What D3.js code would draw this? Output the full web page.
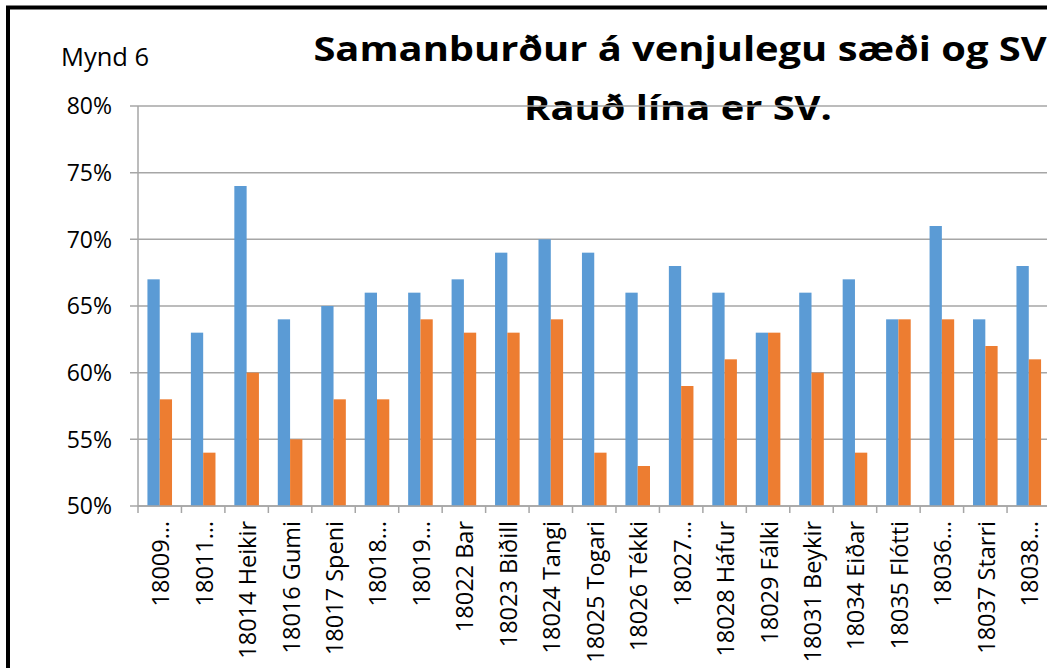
<!DOCTYPE html>
<html>
<head>
<meta charset="utf-8">
<script src="https://cdn.jsdelivr.net/npm/d3@7"></script>
<style>
  body { margin: 0; background: #fff; }
  svg { display: block; font-family: "Open Sans", sans-serif; }
</style>
</head>
<body>
<div id="chart"></div>
<script>
// categories as they show on the axis (Excel cut the long ones)
const categories = ["18009…", "18011…", "18014 Heikir", "18016 Gumi", "18017 Speni", "18018…", "18019…",
  "18022 Bar", "18023 Biðill", "18024 Tangi", "18025 Togari", "18026 Tékki", "18027…", "18028 Háfur",
  "18029 Fálki", "18031 Beykir", "18034 Eiðar", "18035 Flótti", "18036…", "18037 Starri", "18038…"];

// venjulegt sæði (blue) and SV (orange), in %
const venjulegt = [67, 63, 74, 64, 65, 66, 66, 67, 69, 70, 69, 66, 68, 66, 63, 66, 67, 64, 71, 64, 68];
const sv = [58, 54, 60, 55, 58, 58, 64, 63, 63, 64, 54, 53, 59, 61, 63, 60, 54, 64, 64, 62, 61];

const yTicks = [50, 55, 60, 65, 70, 75, 80];
const seriesNames = ["venjulegt", "sv"];

const width = 1047, height = 668;
const colors = { venjulegt: "#5b9bd5", sv: "#ed7d31" };

const svg = d3.select("#chart")
  .append("svg")
  .attr("width", width)
  .attr("height", height);

// outer frame, runs off the right and bottom edge like the screenshot
svg.append("rect")
  .attr("x", 8).attr("y", 7.5)
  .attr("width", 1100).attr("height", 700)
  .attr("fill", "none")
  .attr("stroke", "#000")
  .attr("stroke-width", 4);

svg.append("text")
  .attr("x", 61).attr("y", 66)
  .attr("font-size", 25.5)
  .attr("fill", "#000")
  .text("Mynd 6");

// titles (centered on the full chart, which is cut at the right);
// the original font is wider than Open Sans, so stretch it a bit
const title = svg.append("g")
  .attr("font-weight", "bold")
  .attr("font-size", 33.5)
  .attr("text-anchor", "middle")
  .attr("fill", "#000");
title.append("text")
  .attr("transform", "translate(680,61) scale(1.19,1)")
  .text("Samanburður á venjulegu sæði og SV");
title.append("text")
  .attr("transform", "translate(678,120) scale(1.19,1)")
  .text("Rauð lína er SV.");

const x = d3.scaleBand()
  .domain(categories)
  .range([138, 1050.5])
  .paddingInner(0.434)
  .paddingOuter(0.217);

const xs = d3.scaleBand()
  .domain(seriesNames)
  .range([0, x.bandwidth()]);

const y = d3.scaleLinear()
  .domain([50, 80])
  .range([506, 106]);

// gridlines + y ticks
svg.append("g")
  .selectAll("line")
  .data(yTicks)
  .join("line")
  .attr("x1", 130).attr("x2", 1050)
  .attr("y1", d => y(d)).attr("y2", d => y(d))
  .attr("stroke", "#a6a6a6")
  .attr("stroke-width", 1.5);

svg.append("g")
  .selectAll("text")
  .data(yTicks)
  .join("text")
  .attr("x", 112)
  .attr("y", d => y(d))
  .attr("dy", "0.36em")
  .attr("text-anchor", "end")
  .attr("font-size", 23)
  .attr("fill", "#000")
  .text(d => d + "%");

// bars
const groups = svg.append("g")
  .selectAll("g")
  .data(categories.map((c, i) => ({ cat: c, venjulegt: venjulegt[i], sv: sv[i] })))
  .join("g")
  .attr("transform", d => `translate(${x(d.cat)},0)`);

groups.selectAll("rect")
  .data(d => seriesNames.map(k => ({ key: k, value: d[k] })))
  .join("rect")
  .attr("x", d => xs(d.key))
  .attr("width", xs.bandwidth())
  .attr("y", d => y(d.value))
  .attr("height", d => y(50) - y(d.value))
  .attr("fill", d => colors[d.key]);

// y axis line
svg.append("line")
  .attr("x1", 138).attr("x2", 138)
  .attr("y1", y(80)).attr("y2", y(50))
  .attr("stroke", "#a6a6a6")
  .attr("stroke-width", 1.5);

// x axis line and tick marks at category boundaries
svg.append("line")
  .attr("x1", 138).attr("x2", 1050)
  .attr("y1", y(50)).attr("y2", y(50))
  .attr("stroke", "#a6a6a6")
  .attr("stroke-width", 1.5);

const step = x.step();
svg.append("g")
  .selectAll("line")
  .data(categories)
  .join("line")
  .attr("x1", d => x(d) - x.padding() * step / 2)
  .attr("x2", d => x(d) - x.padding() * step / 2)
  .attr("y1", y(50)).attr("y2", y(50) + 7)
  .attr("stroke", "#a6a6a6")
  .attr("stroke-width", 1.5);

// rotated category labels
svg.append("g")
  .selectAll("text")
  .data(categories)
  .join("text")
  .attr("transform", d => `translate(${x(d) + x.bandwidth() / 2 + 1},521) rotate(-90)`)
  .attr("dy", "0.36em")
  .attr("text-anchor", "end")
  .attr("font-size", 23.5)
  .attr("fill", "#000")
  .text(d => d);
</script>
</body>
</html>
